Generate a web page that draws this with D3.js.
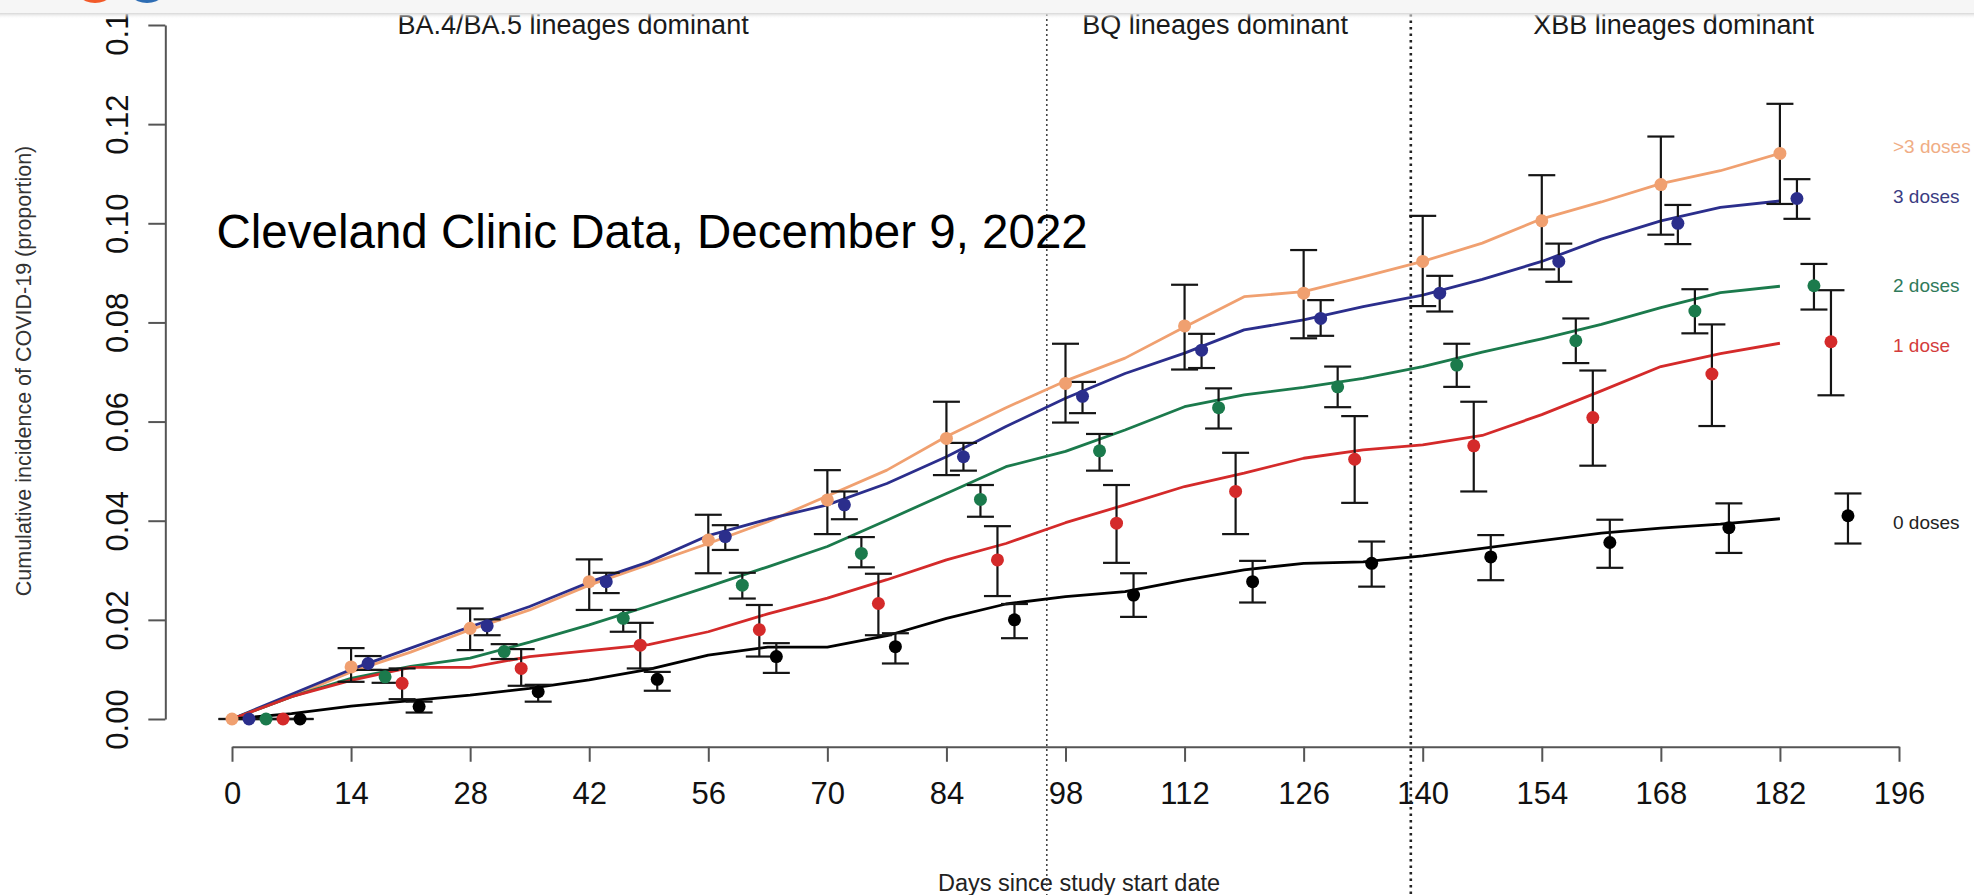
<!DOCTYPE html>
<html><head><meta charset="utf-8">
<script src="https://cdn.jsdelivr.net/npm/d3@7"></script>
<style>
html,body{margin:0;padding:0;background:#fff;}
svg{display:block;}
text{font-family:"Liberation Sans",Arial,Helvetica,sans-serif;}
</style></head><body>
<svg id="chart" width="1974" height="895"></svg>
<script>
// ---------------- DATA ----------------
const groups = [">3 doses", "3 doses", "2 doses", "1 dose", "0 doses"];
const groupColors = ["#f0a070", "#2b2e8c", "#1b7a4c", "#d42a2a", "#000000"];
const labelColors = ["#f0ad85", "#3a3c82", "#2f7a5a", "#d43c3c", "#222222"];

const curveDays = [0,7,14,21,28,35,42,49,56,63,70,77,84,91,98,105,112,119,126,133,140,147,154,161,168,175,182];
const curveGt3Doses = [0,0.0045,0.0095,0.0135,0.0180,0.0220,0.0270,0.0312,0.0354,0.0398,0.0450,0.0502,0.0570,0.0628,0.0682,0.0728,0.0791,0.0852,0.0862,0.0892,0.0923,0.0960,0.1009,0.1043,0.1080,0.1106,0.1141];
const curve3Doses   = [0,0.0050,0.0100,0.0143,0.0186,0.0227,0.0276,0.0317,0.0370,0.0403,0.0432,0.0475,0.0529,0.0590,0.0647,0.0697,0.0738,0.0785,0.0805,0.0832,0.0855,0.0887,0.0923,0.0968,0.1005,0.1032,0.1045];
const curve2Doses   = [0,0.0045,0.0082,0.0106,0.0123,0.0155,0.0190,0.0228,0.0267,0.0307,0.0348,0.0401,0.0455,0.0509,0.0540,0.0583,0.0630,0.0654,0.0669,0.0687,0.0711,0.0740,0.0767,0.0796,0.0830,0.0860,0.0873];
const curve1Dose    = [0,0.0045,0.0078,0.0104,0.0104,0.0126,0.0138,0.0150,0.0176,0.0212,0.0244,0.0281,0.0321,0.0354,0.0396,0.0432,0.0469,0.0496,0.0526,0.0543,0.0553,0.0572,0.0614,0.0662,0.0711,0.0737,0.0758];
const curve0Doses   = [0,0.0011,0.0026,0.0037,0.0048,0.0062,0.0079,0.0100,0.0129,0.0145,0.0145,0.0168,0.0203,0.0232,0.0247,0.0257,0.0280,0.0301,0.0314,0.0317,0.0329,0.0344,0.0360,0.0375,0.0385,0.0393,0.0404];

// point estimates with 95% CI, every 14 days, each group offset by a few days
const pointBaseDays = [0,14,28,42,56,70,84,98,112,126,140,154,168,182];
const pointOffsets  = [0,2,4,6,8];
const pointGt3Doses = [0,0.0105,0.0183,0.0277,0.0361,0.0442,0.0566,0.0677,0.0793,0.0859,0.0923,0.1005,0.1078,0.1141];
const lowGt3Doses   = [0,0.0075,0.0139,0.0220,0.0294,0.0373,0.0492,0.0598,0.0705,0.0768,0.0833,0.0907,0.0977,0.1039];
const highGt3Doses  = [0,0.0143,0.0223,0.0322,0.0412,0.0502,0.0640,0.0757,0.0876,0.0946,0.1015,0.1097,0.1175,0.1241];
const point3Doses   = [0,0.0112,0.0188,0.0277,0.0368,0.0432,0.0529,0.0651,0.0744,0.0808,0.0859,0.0923,0.1000,0.1050];
const low3Doses     = [0,0.0099,0.0169,0.0254,0.0341,0.0403,0.0501,0.0617,0.0708,0.0773,0.0822,0.0882,0.0958,0.1009];
const high3Doses    = [0,0.0127,0.0201,0.0295,0.0391,0.0459,0.0557,0.0680,0.0777,0.0845,0.0894,0.0959,0.1037,0.1089];
const point2Doses   = [0,0.0085,0.0136,0.0203,0.0270,0.0334,0.0443,0.0541,0.0628,0.0670,0.0714,0.0763,0.0823,0.0874];
const low2Doses     = [0,0.0073,0.0121,0.0176,0.0243,0.0306,0.0408,0.0501,0.0586,0.0629,0.0670,0.0718,0.0778,0.0826];
const high2Doses    = [0,0.0099,0.0151,0.0220,0.0295,0.0367,0.0472,0.0575,0.0667,0.0711,0.0757,0.0808,0.0867,0.0918];
const point1Dose    = [0,0.0072,0.0102,0.0149,0.0180,0.0233,0.0321,0.0395,0.0459,0.0524,0.0551,0.0608,0.0696,0.0761];
const low1Dose      = [0,0.0040,0.0067,0.0102,0.0126,0.0169,0.0248,0.0315,0.0373,0.0436,0.0459,0.0511,0.0591,0.0653];
const high1Dose     = [0,0.0102,0.0141,0.0194,0.0230,0.0293,0.0389,0.0472,0.0537,0.0611,0.0640,0.0703,0.0796,0.0865];
const point0Doses   = [0,0.0025,0.0055,0.0080,0.0126,0.0146,0.0200,0.0250,0.0277,0.0314,0.0327,0.0356,0.0386,0.0410];
const low0Doses     = [0,0.0013,0.0035,0.0057,0.0093,0.0112,0.0163,0.0206,0.0235,0.0267,0.0280,0.0305,0.0335,0.0354];
const high0Doses    = [0,0.0035,0.0069,0.0095,0.0153,0.0173,0.0232,0.0294,0.0319,0.0358,0.0371,0.0402,0.0435,0.0455];

const xTicks = [0,14,28,42,56,70,84,98,112,126,140,154,168,182,196];
const yTicks = [0,0.02,0.04,0.06,0.08,0.10,0.12,0.14];
const periodLabels = ["BA.4/BA.5 lineages dominant", "BQ lineages dominant", "XBB lineages dominant"];
const periodBreaks = [95.8, 138.6];
const annotationText = "Cleveland Clinic Data, December 9, 2022";
const xTitle = "Days since study start date";
const yTitle = "Cumulative incidence of COVID-19 (proportion)";

// ---------------- DRAW ----------------
const curves = [curveGt3Doses, curve3Doses, curve2Doses, curve1Dose, curve0Doses];
const points = [pointGt3Doses, point3Doses, point2Doses, point1Dose, point0Doses];
const lows   = [lowGt3Doses, low3Doses, low2Doses, low1Dose, low0Doses];
const highs  = [highGt3Doses, high3Doses, high2Doses, high1Dose, high0Doses];

const svg = d3.select("#chart");
svg.append("rect").attr("width",1974).attr("height",895).attr("fill","#fff");

const x = d3.scaleLinear().domain([0,196]).range([232,1899]);
const y = d3.scaleLinear().domain([0,0.14]).range([719,25]);
const axisX = x(-196*0.04);   // R-style 4% expansion
const axisY = y(-0.14*0.04);

// x axis
const gx = svg.append("g").attr("transform",`translate(0,${axisY})`)
  .call(d3.axisBottom(x).tickValues(xTicks).tickSize(15).tickSizeOuter(0).tickPadding(20).tickFormat(d3.format("d")));
gx.select(".domain").attr("stroke","#555").attr("stroke-width",2);
gx.selectAll(".tick line").attr("stroke","#555").attr("stroke-width",2);
gx.selectAll(".tick text").attr("font-size",31).attr("fill","#111").attr("font-family","Liberation Sans, Arial, sans-serif");

// y axis
const gy = svg.append("g").attr("transform",`translate(${axisX},0)`)
  .call(d3.axisLeft(y).tickValues(yTicks).tickSize(17).tickSizeOuter(0).tickFormat(d3.format(".2f")));
gy.select(".domain").attr("stroke","#555").attr("stroke-width",2);
gy.selectAll(".tick line").attr("stroke","#555").attr("stroke-width",2);
gy.selectAll(".tick text")
  .attr("font-size",31).attr("fill","#111").attr("font-family","Liberation Sans, Arial, sans-serif")
  .attr("text-anchor","middle").attr("transform","rotate(-90)")
  .attr("x",0).attr("y",-37).attr("dy",0);

// axis titles
svg.append("text").attr("x",1079).attr("y",891).attr("text-anchor","middle")
  .attr("font-size",23.5).attr("fill","#222").text(xTitle);
svg.append("text").attr("transform","translate(31,371) rotate(-90)").attr("text-anchor","middle")
  .attr("font-size",21.5).attr("fill","#333").text(yTitle);

// period separators
svg.selectAll(".brk").data(periodBreaks).join("line")
  .attr("x1",d=>x(d)).attr("x2",d=>x(d)).attr("y1",14).attr("y2",895)
  .attr("stroke",(d,i)=>i===0?"#444":"#222")
  .attr("stroke-width",(d,i)=>i===0?1.6:2.6)
  .attr("stroke-dasharray",(d,i)=>i===0?"2,3":"2.5,4");

// period labels
const periodCenters = [40.1, 115.6, 169.5];
svg.selectAll(".plab").data(periodLabels).join("text")
  .attr("x",(d,i)=>x(periodCenters[i])).attr("y",34).attr("text-anchor","middle")
  .attr("font-size",27).attr("fill","#1a1a1a").text(d=>d);

// curves
const line = d3.line().x(d=>x(d[0])).y(d=>y(d[1]));
curves.forEach((c,gi)=>{
  svg.append("path").datum(curveDays.map((d,i)=>[d,c[i]]))
    .attr("d",line).attr("fill","none").attr("stroke",groupColors[gi])
    .attr("stroke-width",2.8).attr("stroke-linejoin","round");
});

// error bars
const cap = 13.5;
groups.forEach((g,gi)=>{
  const grp = svg.append("g");
  pointBaseDays.forEach((bd,k)=>{
    const px = x(bd+pointOffsets[gi]);
    const y0 = y(lows[gi][k]), y1 = y(highs[gi][k]);
    grp.append("line").attr("x1",px).attr("x2",px).attr("y1",y0).attr("y2",y1);
    grp.append("line").attr("x1",px-cap).attr("x2",px+cap).attr("y1",y0).attr("y2",y0);
    grp.append("line").attr("x1",px-cap).attr("x2",px+cap).attr("y1",y1).attr("y2",y1);
  });
  grp.selectAll("line").attr("stroke","#151515").attr("stroke-width",2.2);
});

// points
groups.forEach((g,gi)=>{
  svg.append("g").selectAll("circle").data(pointBaseDays).join("circle")
    .attr("cx",(d)=>x(d+pointOffsets[gi])).attr("cy",(d,k)=>y(points[gi][k]))
    .attr("r",6.5).attr("fill",groupColors[gi]);
});

// group labels
const labelCentersY = [146.7, 196.7, 285, 345.7, 522.7];
svg.selectAll(".glab").data(groups).join("text")
  .attr("x",1893).attr("y",(d,i)=>labelCentersY[i]+6.7)
  .attr("font-size",19).attr("fill",(d,i)=>labelColors[i]).text(d=>d);

// annotation
svg.append("text").attr("x",216.5).attr("y",248).attr("font-size",47.5).attr("fill","#000").text(annotationText);

// top browser strip
const defs = svg.append("defs");
const grad = defs.append("linearGradient").attr("id","shade").attr("x1",0).attr("y1",0).attr("x2",0).attr("y2",1);
grad.append("stop").attr("offset","0%").attr("stop-color","#d6d6d6");
grad.append("stop").attr("offset","100%").attr("stop-color","#ffffff").attr("stop-opacity",0);
svg.append("rect").attr("x",0).attr("y",0).attr("width",1974).attr("height",13).attr("fill","#f6f6f6");
svg.append("rect").attr("x",0).attr("y",13).attr("width",1974).attr("height",6).attr("fill","url(#shade)");
svg.append("circle").attr("cx",95).attr("cy",-21).attr("r",24).attr("fill","#f25a29");
svg.append("circle").attr("cx",147).attr("cy",-21).attr("r",24).attr("fill","#2e6db4");
</script>
</body></html>
